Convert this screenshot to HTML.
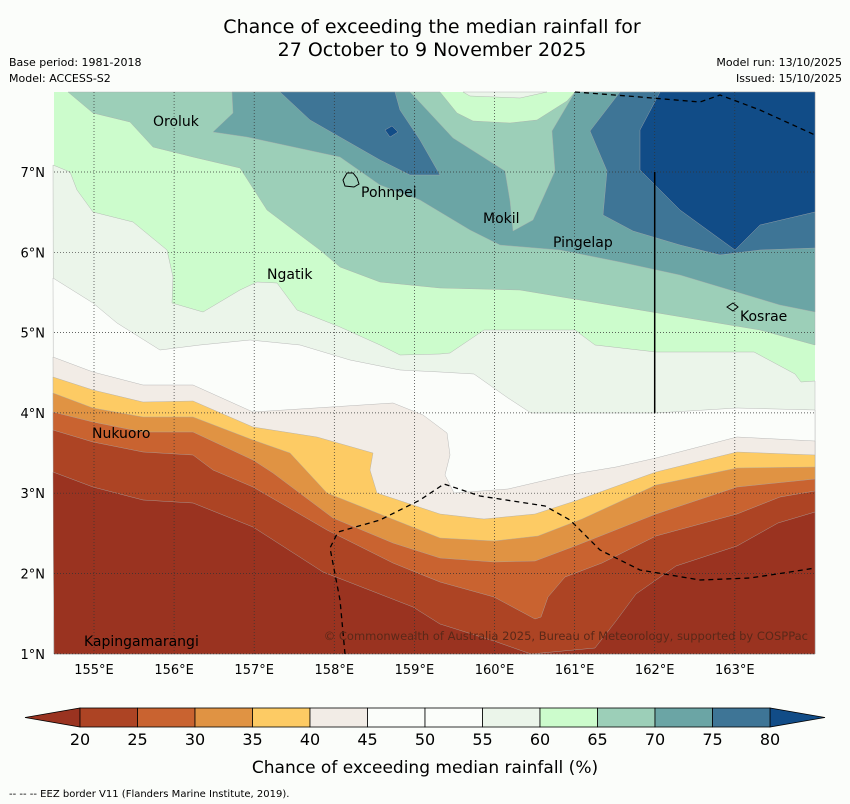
<!DOCTYPE html>
<html><head><meta charset="utf-8"><style>
body{margin:0;background:#fbfdfa;font-family:"DejaVu Sans","Liberation Sans",sans-serif;}
svg{display:block}
</style></head><body>
<svg id="s" width="850" height="804" viewBox="0 0 850 804" xmlns="http://www.w3.org/2000/svg" font-family="DejaVu Sans, Liberation Sans, sans-serif">
<rect width="850" height="804" fill="#fbfdfa"/>
<text x="432" y="33" text-anchor="middle" font-size="19">Chance of exceeding the median rainfall for</text>
<text x="432" y="56" text-anchor="middle" font-size="19">27 October to 9 November 2025</text>
<text x="9" y="66" font-size="11">Base period: 1981-2018</text>
<text x="9" y="82" font-size="11">Model: ACCESS-S2</text>
<text x="842" y="66" font-size="11" text-anchor="end">Model run: 13/10/2025</text>
<text x="842" y="82" font-size="11" text-anchor="end">Issued: 15/10/2025</text>
<g id="map"></g>
<g id="cbar"></g>
<text x="425" y="773" text-anchor="middle" font-size="17">Chance of exceeding median rainfall (%)</text>
<text x="9" y="797" font-size="10">--  --  -- EEZ border V11 (Flanders Marine Institute, 2019).</text>
</svg>
<script>
const levels=[20,25,30,35,40,45,50,55,60,65,70,75,80];
const bandColors=["#9a3320","#ad4424","#c96330","#e09343","#fdcb64","#f2ece6","#fbfdfa","#fbfdfa","#ebf5ea","#ccfccc","#9ccfb8","#6ba5a5","#3e7596","#114c87"];
const lonTicks=[155,156,157,158,159,160,161,162,163];
const latTicks=[1,2,3,4,5,6,7];
const cbTicks=[20,25,30,35,40,45,50,55,60,65,70,75,80];
// contour boundaries (plot-pixel traces)
const high65=[[68,92],[93,113],[130,122],[153,147],[193,157],[240,168],[267,210],[300,235],[320,250],[340,267],[380,282],[440,288],[520,290],[580,300],[640,310],[700,320],[760,330],[815,345],[815,92],[575,92],[567,101],[537,120],[510,123],[473,121],[457,113],[440,92]];
const high70=[[232,92],[233,113],[213,132],[247,137],[340,157],[380,185],[420,200],[470,230],[500,245],[560,250],[620,262],[680,275],[730,290],[780,305],[815,312],[815,92],[575,92],[552,131],[555,171],[543,198],[533,220],[513,231],[510,201],[505,171],[453,138],[413,95],[410,92]];
const high75a=[[280,92],[310,120],[345,140],[380,160],[410,175],[440,175],[420,140],[400,110],[395,92]];
const high75b=[[620,92],[590,131],[607,171],[603,215],[633,231],[680,245],[720,255],[760,250],[815,248],[815,92]];
const high80=[[660,92],[640,130],[640,170],[680,210],[735,250],[760,225],[815,212],[815,92]];
const blob80=[[385,130],[392,126],[398,132],[390,137]];
const topWhite=[[463,92],[470,96],[520,98],[547,92]];
const low60=[[53,165],[70,172],[77,190],[93,212],[133,222],[167,250],[173,277],[172,303],[203,312],[240,290],[257,282],[277,283],[297,310],[340,327],[380,345],[400,355],[440,354],[450,353],[484,330],[575,330],[595,345],[656,352],[754,352],[795,374],[801,382],[815,381]];
const low55=[[53,278],[93,303],[117,323],[160,350],[200,345],[250,340],[300,345],[350,360],[400,370],[440,372],[474,374],[508,398],[531,413],[656,413],[737,408],[815,410]];
const low45=[[53,357],[93,372],[143,385],[193,385],[253,412],[393,403],[423,415],[447,433],[450,455],[445,475],[454,493],[508,489],[568,475],[616,467],[656,458],[737,437],[815,441]];
const low40=[[53,377],[93,390],[143,402],[193,401],[253,427],[317,437],[373,453],[370,470],[377,493],[440,514],[484,519],[535,514],[575,501],[656,472],[737,452],[815,455]];
const low35=[[53,393],[93,408],[143,417],[193,417],[253,440],[290,453],[327,493],[440,538],[494,541],[538,536],[582,519],[656,485],[737,468],[815,467]];
const low30=[[53,412],[93,422],[143,432],[193,432],[253,460],[273,473],[333,518],[393,543],[440,558],[494,562],[535,561],[575,546],[656,514],[737,487],[815,479]];
const low25=[[53,430],[93,442],[143,452],[193,455],[213,470],[253,487],[327,530],[393,563],[440,582],[494,597],[535,619],[541,617],[548,597],[565,577],[602,563],[656,536],[737,514],[780,497],[815,491]];
const low20=[[53,472],[93,487],[143,500],[193,503],[253,527],[323,572],[413,607],[440,624],[494,641],[531,654],[595,648],[616,621],[636,594],[676,566],[737,546],[778,523],[815,512]];
const eez1=[[575,92],[640,97],[700,102],[720,95],[760,110],[815,135]];
const eez2=[[345,654],[340,600],[330,548],[338,532],[380,520],[420,500],[444,484],[480,496],[545,506],[570,520],[600,550],[640,570],[700,580],[750,578],[790,572],[815,568]];
const places=[["Oroluk",153,126],["Pohnpei",361,197],["Mokil",483,223],["Pingelap",553,247],["Ngatik",267,279],["Kosrae",740,321],["Nukuoro",92,438],["Kapingamarangi",84,646]];

const NS="http://www.w3.org/2000/svg";
const X0=54,Y0=92,X1=815,Y1=654;
const xLon=l=>94+(l-155)*80.1;
const yLat=l=>172+(7-l)*80.3;
const map=document.getElementById('map');
function mk(tag,attrs,parent){const e=document.createElementNS(NS,tag);for(const k in attrs)e.setAttribute(k,attrs[k]);(parent||map).appendChild(e);return e;}
const pts=a=>a.map(p=>p.join(',')).join(' ');
const bg=mk('rect',{x:X0,y:Y0,width:X1-X0,height:Y1-Y0,fill:bandColors[9]});


function poly(a,c,name){const e=mk('polygon',{points:pts(a),fill:c,stroke:'#aaa',"stroke-width":0.4});

}
poly(high65,bandColors[10],'band-65-70');
poly(high70,bandColors[11],'band-70-75');
poly(high75a,bandColors[12],'band-75-80-west');
poly(high75b,bandColors[12],'band-75-80-east');
poly(high80,bandColors[13],'band-above-80');
poly(blob80,bandColors[13],'band-above-80-small');
poly(topWhite,bandColors[8],'band-55-60-top');
const close=a=>a.concat([[X1,Y1],[X0,Y1]]);
poly(close(low60),bandColors[8],'band-55-60');
poly(close(low55),bandColors[7],'band-50-55');
poly(close(low45),bandColors[5],'band-40-45');
poly(close(low40),bandColors[4],'band-35-40');
poly(close(low35),bandColors[3],'band-30-35');
poly(close(low30),bandColors[2],'band-25-30');
poly(close(low25),bandColors[1],'band-20-25');
poly(close(low20),bandColors[0],'band-below-20');
lonTicks.forEach(l=>{const x=xLon(l);
const g=mk('line',{x1:x,y1:Y0,x2:x,y2:Y1,stroke:'#333',"stroke-width":0.7,"stroke-dasharray":"1,2"});


const t=mk('text',{x:x,y:674,"text-anchor":"middle","font-size":13});t.textContent=l+'°E';

});
latTicks.forEach(l=>{const y=yLat(l);
const g=mk('line',{x1:X0,y1:y,x2:X1,y2:y,stroke:'#333',"stroke-width":0.7,"stroke-dasharray":"1,2"});


const t=mk('text',{x:45,y:y+5,"text-anchor":"end","font-size":13});t.textContent=l+'°N';

});
const vl=mk('line',{x1:xLon(162),y1:yLat(7),x2:xLon(162),y2:yLat(4),stroke:'#000',"stroke-width":1.5});


[eez1,eez2].forEach(a=>{const e=mk('polyline',{points:pts(a),fill:'none',stroke:'#000',"stroke-width":1.3,"stroke-dasharray":"5,4"});

});
const isl1=mk('path',{d:'M343,180 l4,-7 l6,0 l4,5 l2,6 l-5,3 l-9,-1 z',fill:'none',stroke:'#000',"stroke-width":1});


const isl2=mk('path',{d:'M727,307 l6,-4 l5,4 l-5,4 z',fill:'none',stroke:'#000',"stroke-width":1});


places.forEach(p=>{const t=mk('text',{x:p[1],y:p[2],"font-size":14});t.textContent=p[0];

});
const cr=mk('text',{x:808,y:640,"text-anchor":"end","font-size":11.5,fill:'#5a2818'});cr.textContent='© Commonwealth of Australia 2025, Bureau of Meteorology, supported by COSPPac';


// colorbar
const cb=document.getElementById('cbar');
const cx=v=>80+(v-20)*11.5;
const CY=708,CH=19;
const tl=mk('polygon',{points:`25,${CY+CH/2} ${cx(20)},${CY} ${cx(20)},${CY+CH}`,fill:bandColors[0],stroke:'#000',"stroke-width":0.8},cb);


const tr=mk('polygon',{points:`825,${CY+CH/2} ${cx(80)},${CY} ${cx(80)},${CY+CH}`,fill:bandColors[13],stroke:'#000',"stroke-width":0.8},cb);


for(let i=0;i<levels.length-1;i++){
const r=mk('rect',{x:cx(levels[i]),y:CY,width:cx(levels[i+1])-cx(levels[i]),height:CH,fill:bandColors[i+1],stroke:'#000',"stroke-width":0.8},cb);

}
cbTicks.forEach(v=>{const t=mk('text',{x:cx(v),y:745,"text-anchor":"middle","font-size":16},cb);t.textContent=v;

});
</script>
</body></html>
